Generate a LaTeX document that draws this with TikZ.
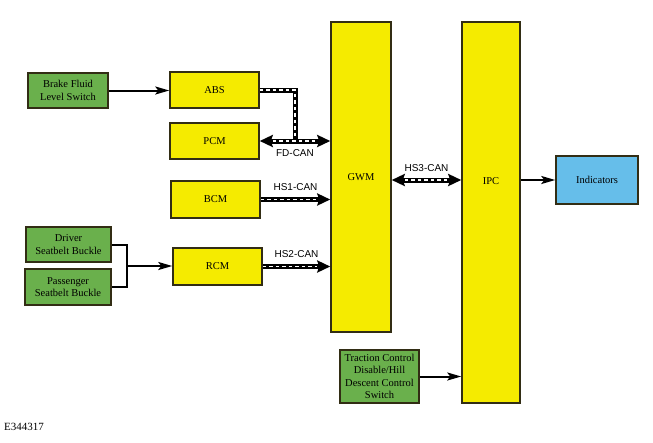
\documentclass[tikz,border=0pt]{standalone}
\usepackage{fontspec}
\setmainfont{Liberation Serif}
\newfontfamily\busfont{Liberation Sans}
\usetikzlibrary{arrows.meta}
\definecolor{modyellow}{RGB}{245, 235, 0}
\definecolor{switchgreen}{RGB}{106, 176, 76}
\definecolor{lampblue}{RGB}{102, 190, 234}
\definecolor{boxedge}{RGB}{50, 45, 20}

\tikzset{
  modbox/.style={draw=boxedge, line width=1.5pt, align=center, inner sep=1pt, font=\fontsize{10.5}{12.5}\selectfont},
  yellowbox/.style={modbox, fill=modyellow},
  greenbox/.style={modbox, fill=switchgreen},
  bluebox/.style={modbox, fill=lampblue},
  wire/.style={line width=2pt, -{Stealth[length=14pt, width=8pt, inset=3pt]}},
  bus/.style={line width=5pt, postaction={draw=white, arrows=-, line width=1.8pt, dash pattern=on 3.5pt off 3pt}},
  busto/.style={line width=5pt, -{Stealth[length=13pt, width=12pt, inset=2pt]}, postaction={draw=white, arrows=-, line width=1.8pt, dash pattern=on 3.5pt off 3pt, shorten >=13pt}},
  busboth/.style={line width=5pt, {Stealth[length=13pt, width=12pt, inset=2pt]}-{Stealth[length=13pt, width=12pt, inset=2pt]}, postaction={draw=white, arrows=-, line width=1.8pt, dash pattern=on 3.5pt off 3pt, shorten >=13pt, shorten <=13pt}},
  buslabel/.style={font=\busfont\fontsize{10}{12}\selectfont, inner sep=1pt}
}

\begin{document}
\begin{tikzpicture}[x=1pt, y=-1pt]
\useasboundingbox (0,0) rectangle (653,442);

% inputs
\node[greenbox, minimum width=80pt, minimum height=35pt] (brake) at (68,90.5) {Brake Fluid\\Level Switch};
\node[greenbox, minimum width=85pt, minimum height=35pt] (driver) at (68.5,244.5) {Driver\\Seatbelt Buckle};
\node[greenbox, minimum width=86pt, minimum height=36pt] (passenger) at (68,287) {Passenger\\Seatbelt Buckle};
\node[greenbox, minimum width=79pt, minimum height=53pt] (traction) at (379.5,376.5) {Traction Control\\Disable/Hill\\Descent Control\\Switch};

% modules
\node[yellowbox, minimum width=89pt, minimum height=36pt] (abs) at (214.5,90) {ABS};
\node[yellowbox, minimum width=89pt, minimum height=36pt] (pcm) at (214.5,141) {PCM};
\node[yellowbox, minimum width=89pt, minimum height=37pt] (bcm) at (215.5,199.5) {BCM};
\node[yellowbox, minimum width=89pt, minimum height=37pt] (rcm) at (217.5,266.5) {RCM};
\node[yellowbox, minimum width=60pt, minimum height=310pt] (gwm) at (361,177) {GWM};
\node[yellowbox, minimum width=58pt, minimum height=381pt] (ipc) at (491,212.5) {};
\node[font=\fontsize{10.5}{12.5}\selectfont] (ipctext) at (491,181) {IPC};

% output
\node[bluebox, minimum width=82pt, minimum height=48pt] (lamps) at (597,180) {Indicators};

\node[anchor=west, inner sep=0pt, font=\fontsize{11}{13}\selectfont] (fig) at (4,427) {E344317};

% hard wired
\draw[wire] (brake.east) -- (brake.east -| abs.west);
\coordinate (merge) at (127,266);
\draw[line width=2pt] (driver.east) -| (merge) |- (passenger.east);
\draw[wire] (merge) -- (merge -| rcm.west);
\draw[wire] (traction.east) -- (traction.east -| ipc.west);
\draw[wire] (ipc.east |- lamps.west) -- (lamps.west);

% networks
\coordinate (fdjoin) at (295,140);
\draw[bus] (abs.east) -| (fdjoin);
\draw[busboth] (pcm.east) -- (pcm.east -| gwm.west) node[buslabel, midway, below=5pt] (fdlabel) {FD-CAN};
\draw[busto] (bcm.east) -- (bcm.east -| gwm.west) node[buslabel, midway, above=5pt] (hs1label) {HS1-CAN};
\draw[busto] (rcm.east) -- (rcm.east -| gwm.west) node[buslabel, midway, above=5pt] (hs2label) {HS2-CAN};
\draw[busboth] (gwm.east |- lamps.west) -- (ipc.west |- lamps.west) node[buslabel, midway, above=5pt] (hs3label) {HS3-CAN};
\end{tikzpicture}
\end{document}
